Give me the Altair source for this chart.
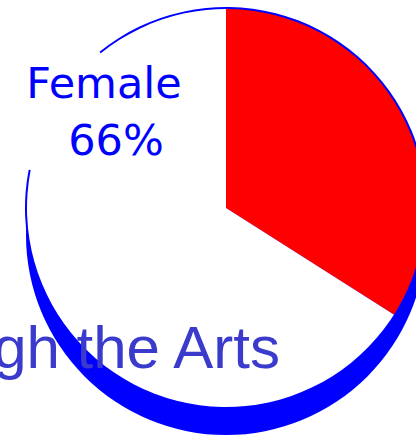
import altair as alt
import pandas as pd
import math

# data
categories = ["Male", "Female"]
shares = [34, 66]
slice_colors = ["#ff0000", "#ffffff"]
label_category = "Female"
title_text = "Through the Arts"

W, H = 416, 439
CX, CY, R = 226, 208, 200
DEPTH = 27
FULL = 2 * math.pi
GAP_END = math.radians(321)     # outline resumes here (clockwise from 12 o'clock)
GAP_START = math.radians(281)   # outline stops here

df = pd.DataFrame({"category": categories, "share": shares, "order": list(range(len(categories)))})
one = pd.DataFrame({"v": [1]})

shadow = alt.Chart(one).mark_arc(
    radius=R, x=CX, y=CY + DEPTH, theta=0, theta2=FULL
).encode(fill=alt.value("#0000ff"))

pie = alt.Chart(df).mark_arc(radius=R, x=CX, y=CY).encode(
    theta=alt.Theta("share:Q", stack=True),
    order=alt.Order("order:Q"),
    color=alt.Color("category:N", scale=alt.Scale(domain=categories, range=slice_colors), legend=None),
)

outline = alt.Chart(one).mark_arc(
    radius=R + 1, radius2=R - 1, x=CX, y=CY, theta=GAP_END, theta2=GAP_START + FULL
).encode(fill=alt.value("#0000ff"))

lab_base = alt.Chart(df).transform_filter(alt.datum.category == label_category)
lab1 = lab_base.mark_text(
    x=104, y=98, fontSize=43, font="DejaVu Sans", color="#0000ff", baseline="alphabetic", align="center"
).encode(text="category:N")
lab2 = lab_base.transform_calculate(pct="datum.share + '%'").mark_text(
    x=116, y=155, fontSize=43, font="DejaVu Sans", color="#0000ff", baseline="alphabetic", align="center"
).encode(text="pct:N")

title = alt.Chart(pd.DataFrame({"t": [title_text]})).mark_text(
    x=280, y=368, fontSize=60, font="Liberation Sans", color="#3a3acc", baseline="alphabetic", align="right"
).encode(text="t:N")

chart = alt.layer(shadow, pie, outline, lab1, lab2, title).properties(
    width=W, height=H, padding=0, autosize=alt.AutoSizeParams(type="none")
).configure_view(stroke=None)

chart.save("out.html", embed_options={"renderer": "svg", "actions": False})
